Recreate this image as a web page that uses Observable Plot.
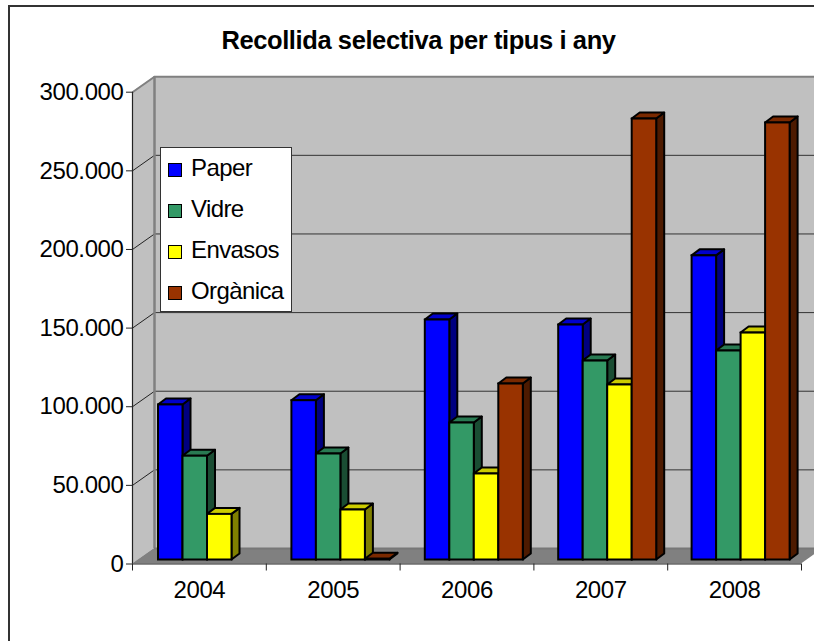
<!DOCTYPE html>
<html>
<head>
<meta charset="utf-8">
<script src="https://cdn.jsdelivr.net/npm/d3@7"></script>
<script src="https://cdn.jsdelivr.net/npm/@observablehq/plot@0.6"></script>
<style>
html,body{margin:0;padding:0;background:#fff;}
#wrap{position:relative;width:814px;height:641px;overflow:hidden;font-family:"Liberation Sans",Arial,sans-serif;}
#wrap svg{position:absolute;left:0;top:0;}
#wrap svg text{font-family:"Liberation Sans",Arial,sans-serif;letter-spacing:-0.4px;}
#frame{position:absolute;left:8px;top:5px;width:830px;height:660px;box-sizing:border-box;border:2px solid #333;}
#legend{position:absolute;left:160px;top:147px;width:132px;height:165px;box-sizing:border-box;background:#fff;border:1px solid #333;}
.item{position:absolute;left:7px;height:24px;line-height:24px;font-size:24px;letter-spacing:-0.6px;color:#000;white-space:nowrap;}
.item i{display:inline-block;width:12px;height:12px;border:1.5px solid #000;margin-right:9px;vertical-align:-1px;}
</style>
</head>
<body>
<div id="wrap"></div>
<script>
const years = ["2004", "2005", "2006", "2007", "2008"];
const seriesNames = ["Paper", "Vidre", "Envasos", "Orgànica"];
const paper = [98600, 101300, 152600, 149400, 193400];
const vidre = [66000, 67400, 87100, 126500, 132900];
const envasos = [29000, 31800, 54700, 111300, 144300];
const organica = [0, 500, 111900, 280400, 277900];
const frontColors = ["#0000ff", "#339966", "#ffff00", "#993300"];
const topColors = ["#0000cc", "#297a52", "#cccc00", "#7a2900"];
const sideColors = ["#000080", "#1a4d33", "#808000", "#4d1a00"];
const yTicks = [0, 50000, 100000, 150000, 200000, 250000, 300000];
const title = "Recollida selectiva per tipus i any";

const values = [paper, vidre, envasos, organica];

// pixel geometry of the oblique projection
const x0 = 132, x1 = 801, y0 = 563.5, yTop = 91.7;
const pxX = (x1 - x0) / years.length;          // pixels per category
const pxY = (y0 - yTop) / 300000;              // pixels per unit
const ux = p => p / pxX, uy = p => p / pxY;    // pixels to data units
const wallX = ux(22), wallY = uy(15.5);        // wall depth
const barDX = ux(8), barDY = uy(6);            // bar depth
const groupStart = ux(18), barW = ux(24.5), pitch = ux(133.4); // bar layout

const rows = [];
values.forEach((vals, s) => vals.forEach((v, i) => {
  const left = i * pitch + groupStart + s * barW;
  if (v > 0) rows.push({year: years[i], series: seriesNames[s], s, v, left, right: left + barW});
}));

const sidePts = rows.flatMap(d => [
  {...d, id: d.year + d.series, px: d.right, lo: 0, hi: d.v},
  {...d, id: d.year + d.series, px: d.right + barDX, lo: barDY, hi: d.v + barDY}
]);
const topPts = rows.flatMap(d => [
  {...d, id: d.year + d.series, py: d.v, a: d.left, b: d.right},
  {...d, id: d.year + d.series, py: d.v + barDY, a: d.left + barDX, b: d.right + barDX}
]);

const n = years.length;
const leftWall = [{x: 0, lo: 0, hi: 300000}, {x: wallX, lo: wallY, hi: 300000 + wallY}];
const floor = [{y: 0, a: 0, b: n}, {y: wallY, a: wallX, b: n + wallX}];
const cats = years.map((y, i) => ({y, c: i + 0.5}));
const fmt = d => d3.format(",")(d).replace(/,/g, ".");

const chart = Plot.plot({
  width: 814,
  height: 641,
  marginLeft: 0, marginRight: 0, marginTop: 0, marginBottom: 0,
  x: {type: "linear", domain: [0, n], range: [x0, x1], axis: null},
  y: {type: "linear", domain: [0, 300000], range: [y0, yTop], axis: null},
  style: {background: "transparent", overflow: "hidden"},
  marks: [
    // back wall
    Plot.rect([{}], {x1: wallX, x2: n + wallX, y1: wallY, y2: 300000 + wallY, fill: "#c0c0c0"}),
    // left wall
    Plot.areaY(leftWall, {x: "x", y1: "lo", y2: "hi", fill: "#c0c0c0", stroke: null}),
    // floor
    Plot.areaX(floor, {y: "y", x1: "a", x2: "b", fill: "#808080", stroke: null}),
    // gridlines on the back wall
    Plot.ruleY(yTicks.slice(1, -1), {x1: wallX, x2: n + wallX, y: d => d + wallY, stroke: "#333", strokeWidth: 1}),
    Plot.link(yTicks.slice(1, -1), {x1: 0, x2: wallX, y1: d => d, y2: d => d + wallY, stroke: "#222", strokeWidth: 1}),
    // wall edges
    Plot.ruleX([wallX], {y1: wallY, y2: 300000 + wallY, stroke: "#808080", strokeWidth: 2.5}),
    Plot.ruleY([300000 + wallY], {x1: wallX, x2: n + wallX, stroke: "#808080", strokeWidth: 2}),
    Plot.ruleY([wallY], {x1: wallX, x2: n + wallX, stroke: "#777", strokeWidth: 2}),
    Plot.link([300000], {x1: 0, x2: wallX, y1: d => d, y2: d => d + wallY, stroke: "#808080", strokeWidth: 2}),
    // bars: side, top and front faces
    Plot.areaY(sidePts, {x: "px", y1: "lo", y2: "hi", z: "id", fill: d => sideColors[d.s], stroke: "#000", strokeWidth: 2, dx: 8, dy: -4, curve: "linear"}),
    Plot.areaX(topPts, {y: "py", x1: "a", x2: "b", z: "id", fill: d => topColors[d.s], stroke: "#000", strokeWidth: 2, dx: 8, dy: -4, curve: "linear"}),
    Plot.rect(rows, {x1: "left", x2: "right", y1: 0, y2: "v", fill: d => frontColors[d.s], stroke: "#000", strokeWidth: 2, dx: 8, dy: -4}),
    // axes
    Plot.ruleX([0], {y1: 0, y2: 300000, stroke: "#222", strokeWidth: 1.2}),
    Plot.ruleY([0], {x1: 0, x2: n, stroke: "#222", strokeWidth: 1.2}),
    Plot.axisY(yTicks, {anchor: "left", x: 0, tickSize: 6, tickPadding: 3, tickFormat: fmt, fontSize: 24, stroke: "#222", label: null, fill: "#000"}),
    Plot.axisX(d3.range(n + 1), {anchor: "bottom", y: 0, tickSize: 7, tickFormat: () => "", stroke: "#222", label: null}),
    Plot.text(cats, {x: "c", y: 0, text: "y", dy: 26, fontSize: 24, fill: "#000"}),
    Plot.text([title], {x: (418 - x0) / pxX, y: (y0 - 40) / pxY, text: d => d, fontSize: 25.5, fontWeight: "bold", fill: "#000"})
  ]
});

const wrap = document.getElementById("wrap");
wrap.appendChild(chart);
const frame = document.createElement("div");
frame.id = "frame";
wrap.appendChild(frame);
const legend = document.createElement("div");
legend.id = "legend";
const itemTops = [8, 48.5, 90, 130.5];
seriesNames.forEach((name, i) => {
  const it = document.createElement("div");
  it.className = "item";
  it.style.top = itemTops[i] + "px";
  const sw = document.createElement("i");
  sw.style.background = frontColors[i];
  it.appendChild(sw);
  it.appendChild(document.createTextNode(name));
  legend.appendChild(it);
});
wrap.appendChild(legend);
</script>
</body>
</html>
